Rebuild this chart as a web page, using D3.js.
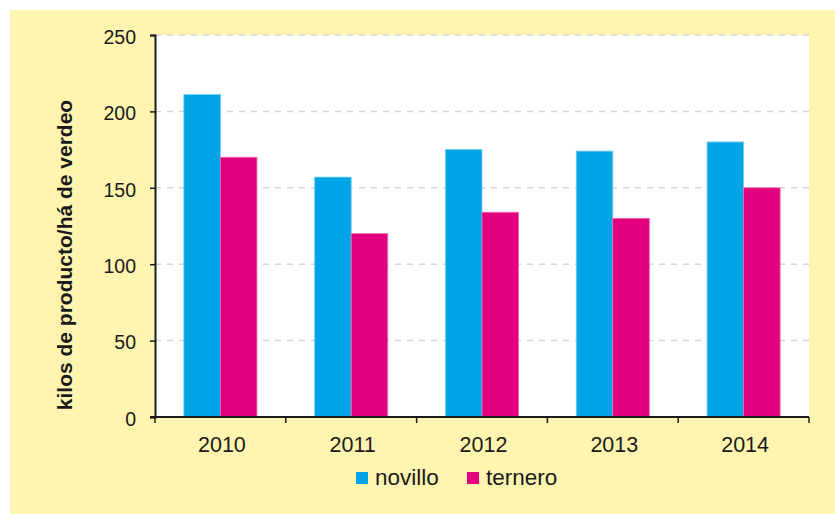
<!DOCTYPE html>
<html><head><meta charset="utf-8">
<script src="https://cdn.jsdelivr.net/npm/d3@7"></script>
<style>
html,body{margin:0;padding:0;background:#fff;}
text{font-family:"Liberation Sans",Arial,sans-serif;fill:#1a1a1a;}
</style></head>
<body>
<svg id="chart" width="835" height="514"></svg>
<script>
const years = ["2010","2011","2012","2013","2014"];
const seriesNames = ["novillo","ternero"];
const novillo = [211,157,175,174,180];
const ternero = [170,120,134,130,150];
const yTicks = [0,50,100,150,200,250];
const colors = ["#00a4e6","#e3007f"];
const yTitle = "kilos de producto/há de verdeo";

const svg = d3.select("#chart");
svg.append("rect").attr("x",10).attr("y",10).attr("width",825).attr("height",504).attr("fill","#fff5b0");

const pLeft=155,pRight=809,pTop=35,pBottom=417;
svg.append("rect").attr("x",pLeft).attr("y",pTop).attr("width",pRight-pLeft).attr("height",pBottom-pTop).attr("fill","#fff");

const x = d3.scaleBand().domain(years).range([pLeft,pRight]).padding(0);
const xs = d3.scaleBand().domain(seriesNames).range([0,x.bandwidth()]).paddingInner(0).paddingOuter(0.79);
const y = d3.scaleLinear().domain([0,250]).range([pBottom,pTop]);

// gridlines
svg.append("g").selectAll("line").data(yTicks.filter(d=>d>0)).join("line")
  .attr("x1",pLeft).attr("x2",pRight).attr("y1",d=>y(d)).attr("y2",d=>y(d))
  .attr("stroke","#d6d6d6").attr("stroke-width",1.5).attr("stroke-dasharray","6,6");

const data = years.map((yr,i)=>({year:yr, vals:[novillo[i],ternero[i]]}));
const g = svg.append("g").selectAll("g").data(data).join("g").attr("transform",d=>`translate(${x(d.year)},0)`);
g.selectAll("rect").data(d=>d.vals.map((v,j)=>({s:seriesNames[j],v,j}))).join("rect")
  .attr("x",d=>xs(d.s)).attr("width",xs.bandwidth())
  .attr("y",d=>y(d.v)).attr("height",d=>pBottom-y(d.v))
  .attr("fill",d=>colors[d.j])
  .attr("stroke",d=>d.j===0?"#6fcdf2":"#f06aad").attr("stroke-width",0.8);

// y axis
const yAxis = svg.append("g").attr("transform",`translate(${pLeft},0)`)
  .call(d3.axisLeft(y).tickValues(yTicks).tickSize(5).tickPadding(14).tickFormat(d3.format("d")));
yAxis.select(".domain").attr("stroke","#1a1a1a").attr("stroke-width",2);
yAxis.selectAll(".tick line").attr("stroke","#1a1a1a").attr("stroke-width",1.5);
yAxis.selectAll("text").attr("font-size","19.5px").attr("dy","0.42em")
  .style("font-family",'"Liberation Sans",Arial,sans-serif').attr("fill","#1a1a1a");

// x axis
const xAxis = svg.append("g").attr("transform",`translate(0,${pBottom})`)
  .call(d3.axisBottom(x).tickSize(0).tickPadding(20));
xAxis.select(".domain").remove();
xAxis.selectAll("text").attr("font-size","21.5px").attr("dy","0.71em").attr("dx","1.5")
  .style("font-family",'"Liberation Sans",Arial,sans-serif').attr("fill","#1a1a1a");
svg.append("line").attr("x1",pLeft-5).attr("x2",pRight).attr("y1",pBottom).attr("y2",pBottom).attr("stroke","#1a1a1a").attr("stroke-width",2);
const bounds = years.map(yr=>x(yr)).concat([x(years[years.length-1])+x.bandwidth()]);
svg.append("g").selectAll("line").data(bounds).join("line")
  .attr("x1",d=>d).attr("x2",d=>d).attr("y1",pBottom).attr("y2",pBottom+6)
  .attr("stroke","#1a1a1a").attr("stroke-width",1.5);

// y title
svg.append("text").attr("transform",`translate(72,${(pTop+pBottom)/2+29}) rotate(-90)`)
  .attr("text-anchor","middle").attr("font-weight","bold").attr("font-size","21px")
  .style("font-family",'"Liberation Sans",Arial,sans-serif')
  .text(yTitle);

// legend
const legendItems = [{name:seriesNames[0],c:colors[0],x:356},{name:seriesNames[1],c:colors[1],x:467}];
const lg = svg.append("g").selectAll("g").data(legendItems).join("g").attr("transform",d=>`translate(${d.x},472)`);
lg.append("rect").attr("width",12).attr("height",12).attr("fill",d=>d.c);
lg.append("text").attr("x",19).attr("y",13).attr("font-size","22.5px")
  .style("font-family",'"Liberation Sans",Arial,sans-serif').text(d=>d.name);
</script>
</body></html>
